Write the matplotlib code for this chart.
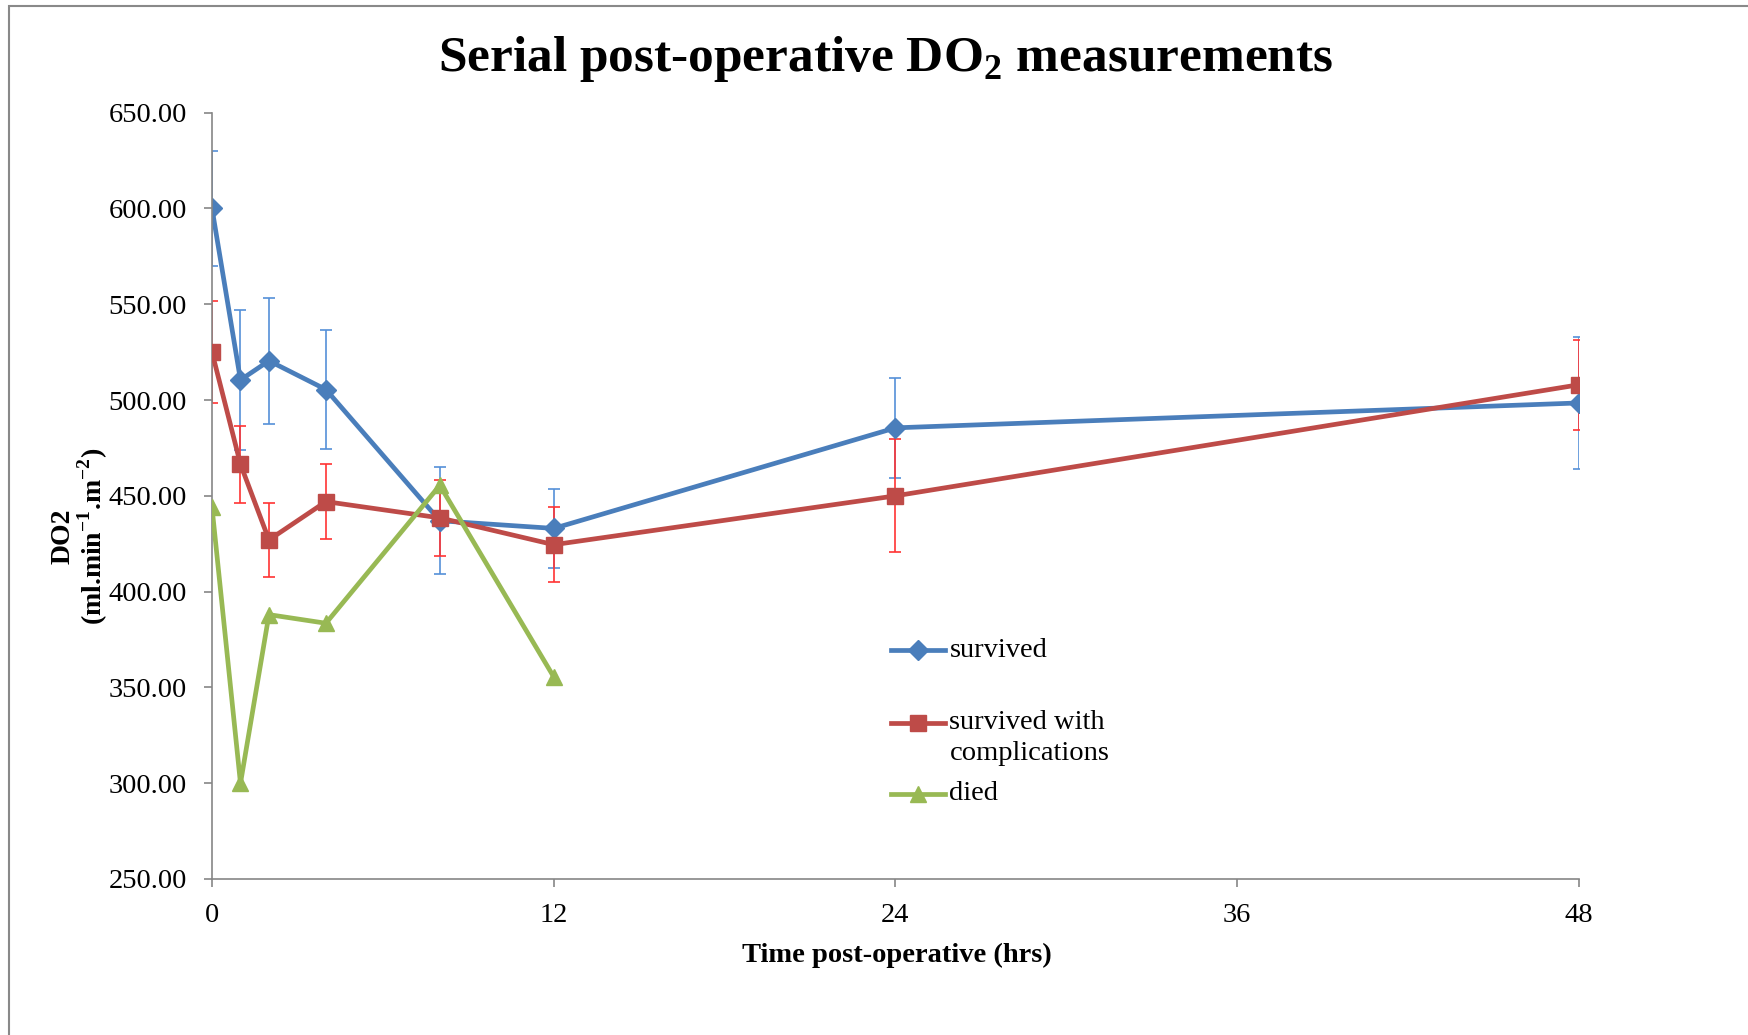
import matplotlib
matplotlib.use("Agg")
import matplotlib.pyplot as plt
from matplotlib.patches import Rectangle
import numpy as np

# data
hours = [0, 1, 2, 4, 8, 12, 24, 48]
survived = [600, 510.5, 520.5, 505.5, 437, 433, 485.5, 498.5]
survived_err = [30, 36.5, 33, 31, 28, 20.5, 26, 34.5]
complications = [525, 466.5, 427, 447, 438.5, 424.5, 450, 508]
complications_err = [26.5, 20, 19.5, 19.5, 20, 19.5, 29.5, 23.5]
died_hours = [0, 1, 2, 4, 8, 12]
died = [444, 300, 388, 383.5, 455.5, 355.5]

yticks = [250, 300, 350, 400, 450, 500, 550, 600, 650]
xticks = [0, 12, 24, 36, 48]

blue = "#4A7EBB"
red = "#BE4B48"
green = "#98B954"
axis_grey = "#868686"

plt.rcParams["font.family"] = ["Liberation Serif", "DejaVu Serif"]
plt.rcParams["mathtext.fontset"] = "custom"
plt.rcParams["mathtext.rm"] = "Liberation Serif:bold"
plt.rcParams["mathtext.bf"] = "Liberation Serif:bold"

W, H = 1749, 1035
fig = plt.figure(figsize=(W / 100, H / 100), dpi=100)
ax = fig.add_axes([212 / W, 1 - 879 / H, (1579 - 212) / W, (879 - 112.7) / H])

# error bars first so the lines sit on top
ax.errorbar(hours, survived, yerr=survived_err, fmt="none", ecolor="#5590D8",
            elinewidth=1.2, capsize=4, capthick=1.2, zorder=1)
ax.errorbar(hours, complications, yerr=complications_err, fmt="none", ecolor="#FF3333",
            elinewidth=1.2, capsize=4, capthick=1.2, zorder=1)

ax.plot(hours, survived, color=blue, lw=3.4, marker="D", ms=10, zorder=2)
ax.plot(hours, complications, color=red, lw=3.4, marker="s", ms=11, zorder=3)
ax.plot(died_hours, died, color=green, lw=3.4, marker="^", ms=12, zorder=4)

ax.set_xlim(0, 48)
ax.set_ylim(250, 650)
ax.set_xticks(xticks)
ax.set_yticks(yticks)
ax.set_yticklabels(["%.2f" % v for v in yticks])
ax.tick_params(labelsize=20.5, length=6, width=1.2, color=axis_grey, direction="out")
ax.tick_params(axis="x", pad=11)
ax.tick_params(axis="y", pad=12)
for s in ["top", "right"]:
    ax.spines[s].set_visible(False)
for s in ["left", "bottom"]:
    ax.spines[s].set_color(axis_grey)
    ax.spines[s].set_linewidth(1.2)

# hand-made legend (Excel style, uneven spacing)
pitch = 31 / 766.3
entries = [(["survived"], blue, "D", 10, 0.2988),
           (["survived with", "complications"], red, "s", 11, 0.2036),
           (["died"], green, "^", 12, 0.111)]
for lines, col, mk, ms, yy in entries:
    ax.plot([0.4967, 0.536], [yy, yy], color=col, lw=3.4, transform=ax.transAxes, clip_on=False)
    ax.plot([0.5165], [yy], color=col, marker=mk, ms=ms, transform=ax.transAxes, clip_on=False)
    for i, line in enumerate(lines):
        ax.text(0.5395, yy - i * pitch, line, transform=ax.transAxes, fontsize=20.5,
                va="center", ha="left")

fig.text(886 / W, 1 - 59 / H, r"Serial post-operative DO$_\mathbf{2}$ measurements",
         fontsize=37, fontweight="bold", ha="center", va="center")
fig.text(897 / W, 1 - 955 / H, "Time post-operative (hrs)", fontsize=20.5,
         fontweight="bold", ha="center", va="center")
fig.text(80 / W, 1 - 536 / H, "DO2\n(ml.min$^{\\mathbf{-1}}$.m$^{\\mathbf{-2}}$)", fontsize=20,
         fontweight="bold", rotation=90, ha="center", va="center", multialignment="center",
         linespacing=1.0)

# outer chart border, cropped at right and bottom
fig.add_artist(Rectangle((9 / W, -0.1), 1.2, 1.1 - 6 / H, transform=fig.transFigure,
                         fill=False, edgecolor="#898989", lw=1.5))

fig.savefig("out.png", dpi=100)
